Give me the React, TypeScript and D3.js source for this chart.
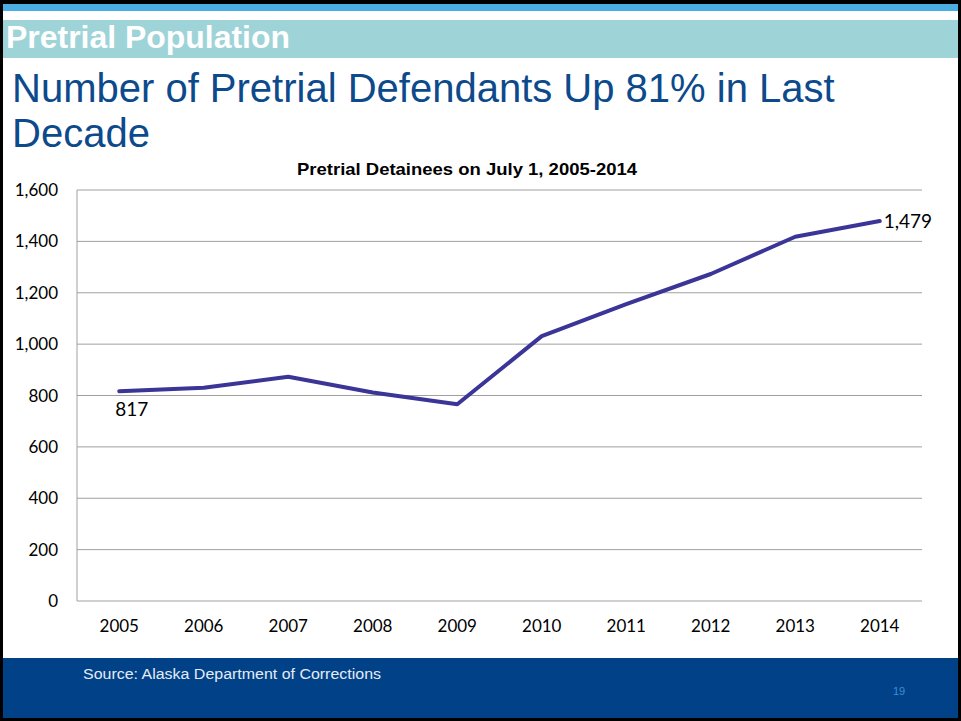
import React from "react";
import * as d3 from "d3";

const years = ["2005", "2006", "2007", "2008", "2009", "2010", "2011", "2012", "2013", "2014"];
const detainees = [817, 830, 873, 812, 766, 1031, 1156, 1273, 1418, 1479];
const yTicks = [0, 200, 400, 600, 800, 1000, 1200, 1400, 1600];

const W = 961;
const H = 721;
const plot = { left: 77, right: 922, top: 190, bottom: 601 };

const App: React.FC = () => {
  const x = d3.scaleBand<string>().domain(years).range([plot.left, plot.right]);
  const y = d3.scaleLinear().domain([0, 1600]).range([plot.bottom, plot.top]);
  const fmt = d3.format(",");

  const line = d3
    .line<number>()
    .x((_, i) => x(years[i])! + x.bandwidth() / 2)
    .y((d) => y(d));

  const axisFont = "Lato, 'Open Sans', sans-serif";
  const arial = "'Liberation Sans', Arial, sans-serif";
  const last = detainees.length - 1;

  return (
    <svg width={W} height={H} style={{ position: "absolute", left: 0, top: 0 }}>
      <rect x={0} y={0} width={W} height={H} fill="#000" />
      <rect x={3} y={4} width={955} height={714} fill="#fff" />
      <rect x={3} y={4} width={955} height={7} fill="#4AAEE3" />
      <rect x={3} y={20} width={955} height={38} fill="#9ED3D8" />
      <text x={6} y={48} fill="#fff" fontFamily={arial} fontWeight="bold" fontSize={31}
        textLength={284} lengthAdjust="spacingAndGlyphs">
        Pretrial Population
      </text>
      <text x={12} y={102} fill="#0D4A8C" fontFamily={arial} fontSize={40}>
        Number of Pretrial Defendants Up 81% in Last
      </text>
      <text x={12} y={147} fill="#0D4A8C" fontFamily={arial} fontSize={40}>
        Decade
      </text>
      <text x={467} y={175} textAnchor="middle" fill="#000" fontFamily={arial}
        fontWeight="bold" fontSize={17} textLength={340} lengthAdjust="spacingAndGlyphs">
        Pretrial Detainees on July 1, 2005-2014
      </text>

      {yTicks.map((t) => (
        <g key={t}>
          <line x1={plot.left} x2={plot.right} y1={y(t)} y2={y(t)} stroke="#a0a0a0" strokeWidth={1} />
          <text x={58} y={y(t) + 6} textAnchor="end" fontFamily={axisFont} fontSize={17} fill="#000">
            {fmt(t)}
          </text>
        </g>
      ))}
      <line x1={plot.left} x2={plot.left} y1={plot.top} y2={plot.bottom} stroke="#a0a0a0" strokeWidth={1} />

      {years.map((yr) => (
        <text key={yr} x={x(yr)! + x.bandwidth() / 2} y={632} textAnchor="middle"
          fontFamily={axisFont} fontSize={17} fill="#000">
          {yr}
        </text>
      ))}

      <path d={line(detainees)!} fill="none" stroke="#3A3596" strokeWidth={4} strokeLinejoin="round" strokeLinecap="round" />

      <text x={x(years[0])! + x.bandwidth() / 2 - 4} y={y(detainees[0]) + 25} fontFamily={axisFont}
        fontSize={19} fill="#000">
        {fmt(detainees[0])}
      </text>
      <text x={x(years[last])! + x.bandwidth() / 2 + 4} y={y(detainees[last]) + 7} fontFamily={axisFont}
        fontSize={19} fill="#000">
        {fmt(detainees[last])}
      </text>

      <rect x={3} y={658} width={955} height={60} fill="#004187" />
      <text x={83} y={679} fill="#E6ECF5" fontFamily={arial} fontSize={14}
        textLength={298} lengthAdjust="spacingAndGlyphs">
        Source: Alaska Department of Corrections
      </text>
      <text x={893} y={695} fill="#3B8FD6" fontFamily={arial} fontSize={11}>
        19
      </text>
    </svg>
  );
};

export default App;
